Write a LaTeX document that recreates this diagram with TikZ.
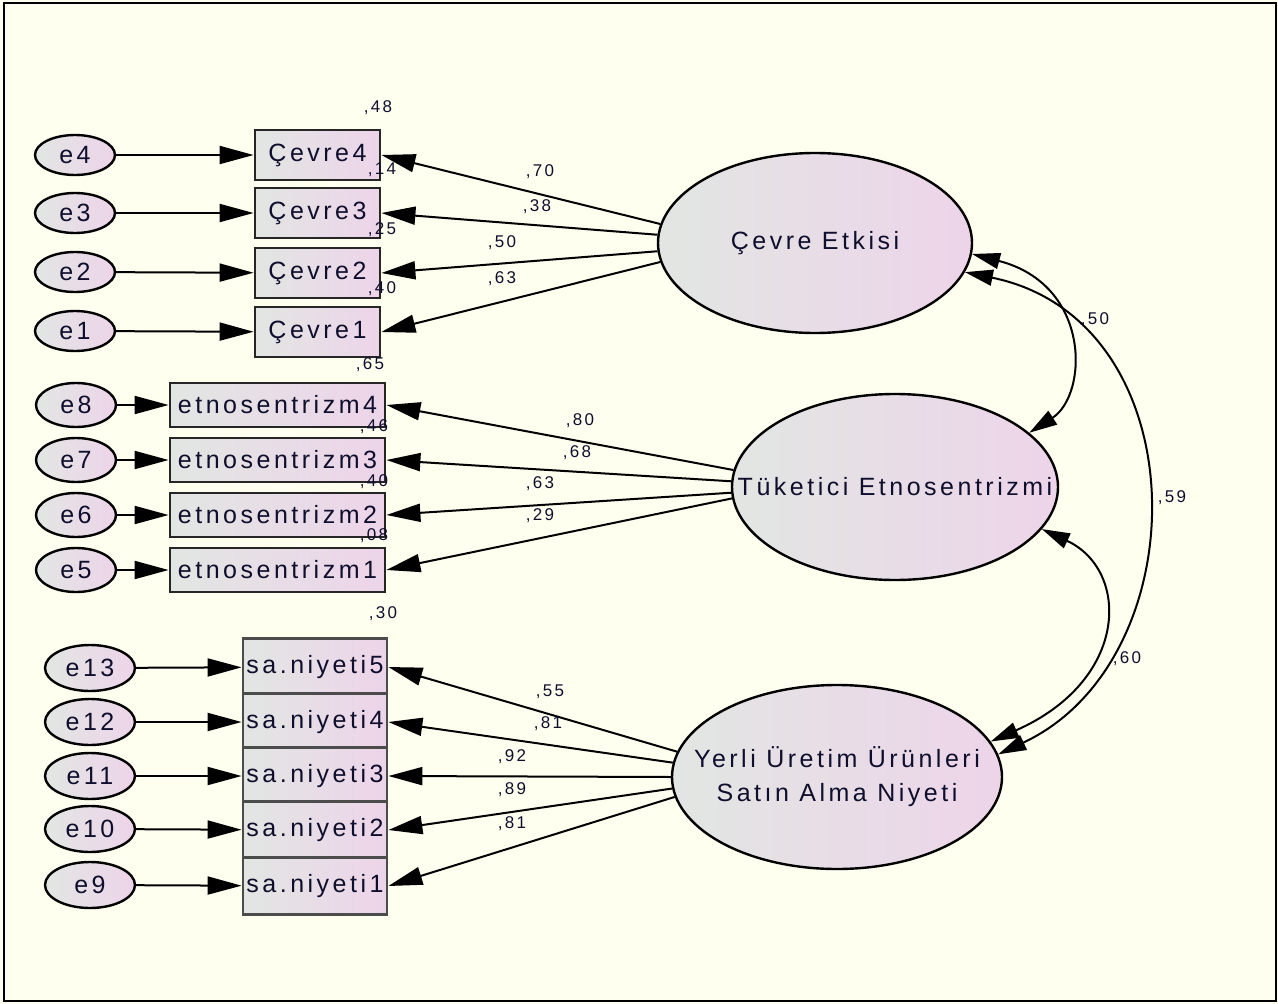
\documentclass[tikz,border=0pt]{standalone}
\usepackage{fontspec}
\setmainfont{Liberation Sans}[LetterSpace=14]
\usetikzlibrary{shapes.geometric,arrows.meta}
\definecolor{bgc}{RGB}{255,255,240}
\definecolor{lc}{RGB}{226,230,227}
\definecolor{rc}{RGB}{237,212,233}
\definecolor{txt}{RGB}{15,15,45}
\newcommand{\zw}[1]{\makebox[0pt][c]{#1}}
\begin{document}
\begin{tikzpicture}[x=1pt,y=-1pt,
 big/.style={font=\fontsize{25}{34}\selectfont, text=txt},
 lbl/.style={font=\fontsize{17}{20}\selectfont, inner sep=0, text=txt},
 errv/.style={ellipse, draw=black, line width=2.4pt, left color=lc, right color=rc, inner sep=0, minimum width=80pt, minimum height=40pt, big},
 errw/.style={errv, minimum width=90pt, minimum height=46pt},
 obs/.style={rectangle, draw=black!85, line width=2.8pt, left color=lc, right color=rc, inner sep=0, big},
 lat/.style={ellipse, draw=black, line width=2.4pt, left color=lc, right color=rc, inner sep=0, big, align=center},
 ldarrow/.style={line width=2pt, -{Triangle[length=34pt,width=18pt]}},
 cov/.style={line width=2pt, {Triangle[length=28pt,width=16pt]}-{Triangle[length=28pt,width=16pt]}},
]
\useasboundingbox (0,0) rectangle (1278,1004);
\fill[bgc] (0,0) rectangle (1278,1004);
\draw[line width=2pt] (4,3) rectangle (1276,1001);

% latent variables
\node[lat, minimum width=314pt, minimum height=180pt] (ce) at (815,243) {\zw{Çevre Etkisi}};
\node[lat, minimum width=326pt, minimum height=186pt] (te) at (895,487) {\zw{Tüketici Etnosentrizmi}};
\node[lat, minimum width=330pt, minimum height=184pt] (ye) at (837,777) {\zw{Yerli Üretim Ürünleri}\\\zw{Satın Alma Niyeti}};

% error terms
\node[errv] (e4) at (75,155) {e4};
\node[errv] (e3) at (75,213) {e3};
\node[errv] (e2) at (75,272) {e2};
\node[errv] (e1) at (75,331) {e1};
\node[errv, minimum height=44pt] (e8) at (76,405) {e8};
\node[errv, minimum height=44pt] (e7) at (76,460) {e7};
\node[errv, minimum height=44pt] (e6) at (76,515) {e6};
\node[errv, minimum height=44pt] (e5) at (76,570) {e5};
\node[errw] (e13) at (90,668) {e13};
\node[errw] (e12) at (90,722) {e12};
\node[errw] (e11) at (90,776) {e11};
\node[errw] (e10) at (90,829) {e10};
\node[errw] (e9) at (90,885) {e9};

% observed variables
\node[obs, minimum width=125pt, minimum height=50pt] (c4) at (317.5,155) {Çevre4};
\node[obs, minimum width=125pt, minimum height=50pt] (c3) at (317.5,213) {Çevre3};
\node[obs, minimum width=125pt, minimum height=50pt] (c2) at (317.5,273) {Çevre2};
\node[obs, minimum width=125pt, minimum height=50pt] (c1) at (317.5,332) {Çevre1};
\node[obs, minimum width=215pt, minimum height=44pt] (t4) at (277.5,405) {etnosentrizm4};
\node[obs, minimum width=215pt, minimum height=44pt] (t3) at (277.5,460) {etnosentrizm3};
\node[obs, minimum width=215pt, minimum height=44pt] (t2) at (277.5,515) {etnosentrizm2};
\node[obs, minimum width=215pt, minimum height=44pt] (t1) at (277.5,570) {etnosentrizm1};
\node[obs, draw=black!70, minimum width=144pt, minimum height=57pt] (s5) at (315,667) {sa.niyeti5};
\node[obs, draw=black!70, minimum width=144pt, minimum height=57pt] (s4) at (315,722) {sa.niyeti4};
\node[obs, draw=black!70, minimum width=144pt, minimum height=57pt] (s3) at (315,776) {sa.niyeti3};
\node[obs, draw=black!70, minimum width=144pt, minimum height=57pt] (s2) at (315,830) {sa.niyeti2};
\node[obs, draw=black!70, minimum width=144pt, minimum height=57pt] (s1) at (315,886) {sa.niyeti1};

% squared multiple correlations
\node[lbl] (r1) at (378,108) {,48};
\node[lbl] (r2) at (382,170) {,14};
\node[lbl] (r3) at (382,230) {,25};
\node[lbl] (r4) at (382,289) {,40};
\node[lbl] (r5) at (370,365) {,65};
\node[lbl] (r6) at (374,427) {,46};
\node[lbl] (r7) at (374,482) {,40};
\node[lbl] (r8) at (374,536) {,08};
\node[lbl] (r9) at (383,614) {,30};

% error arrows
\foreach \e/\b in {e4/c4,e3/c3,e2/c2,e1/c1,e8/t4,e7/t3,e6/t2,e5/t1,e13/s5,e12/s4,e11/s3,e10/s2,e9/s1}
  \draw[ldarrow] (\e) -- (\b);

% loadings
\draw[ldarrow] (ce.173) -- (c4.east);
\draw[ldarrow] (ce.177) -- (c3.east);
\draw[ldarrow] (ce.183) -- (c2.east);
\draw[ldarrow] (ce.187) -- (c1.east);
\draw[ldarrow] (te.174.7) -- (t4.east);
\draw[ldarrow] (te.178) -- (t3.east);
\draw[ldarrow] (te.182) -- (t2.east);
\draw[ldarrow] (te.184.6) -- (t1.east);
\draw[ldarrow] (ye.171.7) -- (s5.east);
\draw[ldarrow] (ye.175.8) -- (s4.east);
\draw[ldarrow] (ye.180) -- (s3.east);
\draw[ldarrow] (ye.184) -- (s2.east);
\draw[ldarrow] (ye.187.3) -- (s1.east);

\node[lbl] (l1) at (540,172) {,70};
\node[lbl] (l2) at (537,207) {,38};
\node[lbl] (l3) at (502,243) {,50};
\node[lbl] (l4) at (502,279) {,63};
\node[lbl] (l5) at (580,421) {,80};
\node[lbl] (l6) at (577,453) {,68};
\node[lbl] (l7) at (540,484) {,63};
\node[lbl] (l8) at (540,516) {,29};
\node[lbl] (l9) at (550,692) {,55};
\node[lbl] (l10) at (548,724) {,81};
\node[lbl] (l11) at (512,757) {,92};
\node[lbl] (l12) at (512,790) {,89};
\node[lbl] (l13) at (512,824) {,81};

% covariances
\draw[cov] (ce.-4) .. controls (1092,285) and (1088,395) .. (te.22);
\draw[cov] (ce.-11) .. controls (1200,320) and (1200,660) .. (ye.8);
\draw[cov] (te.-16) .. controls (1130,570) and (1130,680) .. (ye.13);
\node[lbl] (k1) at (1095,320) {,50};
\node[lbl] (k2) at (1172,498) {,59};
\node[lbl] (k3) at (1127,659) {,60};
\end{tikzpicture}
\end{document}
